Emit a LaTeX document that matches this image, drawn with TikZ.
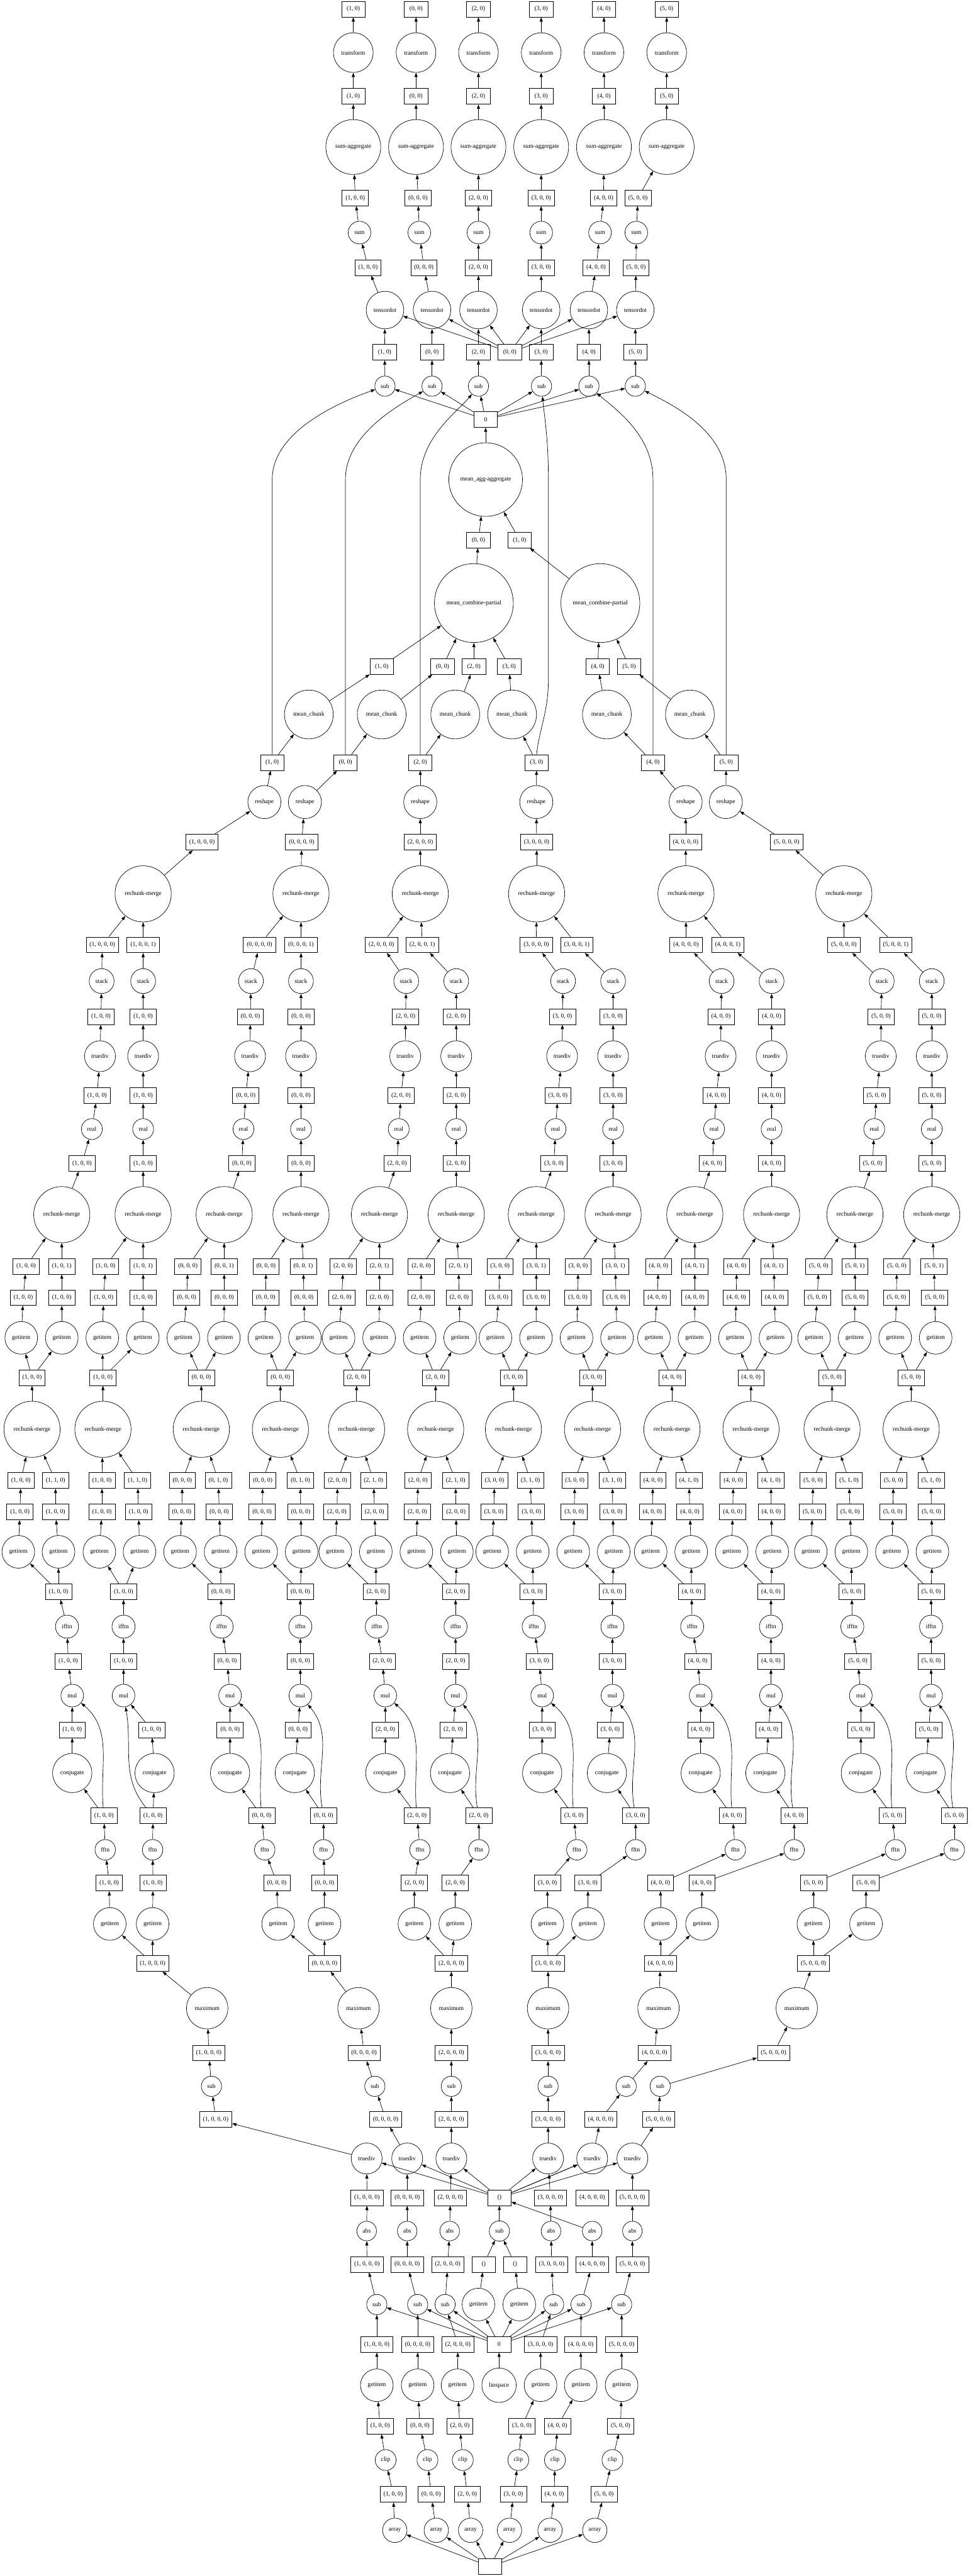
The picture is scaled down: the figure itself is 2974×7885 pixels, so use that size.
\documentclass[tikz,border=0pt]{standalone}
\usepackage{fontspec}
\setmainfont{Liberation Serif}
\usetikzlibrary{arrows.meta}
\tikzset{
 bx/.style={draw,rectangle,minimum width=54pt,minimum height=36pt,inner xsep=8pt,inner ysep=0pt},
 cn/.style={draw,circle,inner sep=0pt},
 ksub/.style={cn,minimum size=46.5pt}, kabs/.style={cn,minimum size=45pt},
 kgi/.style={cn,minimum size=75pt}, ktd/.style={cn,minimum size=71pt},
 kmax/.style={cn,minimum size=95pt}, kclip/.style={cn,minimum size=48pt},
 karr/.style={cn,minimum size=56pt}, klin/.style={cn,minimum size=79pt},
 kfft/.style={cn,minimum size=47pt}, kconj/.style={cn,minimum size=90pt},
 kmul/.style={cn,minimum size=52pt}, kifft/.style={cn,minimum size=53pt},
 krm/.style={cn,minimum size=129pt}, kreal/.style={cn,minimum size=48pt},
 kstack/.style={cn,minimum size=57pt}, kresh/.style={cn,minimum size=76pt},
 kmc/.style={cn,minimum size=112pt}, kmcp/.style={cn,minimum size=181pt},
 kmagg/.style={cn,minimum size=169pt}, ktens/.style={cn,minimum size=86pt},
 ksum/.style={cn,minimum size=52pt}, ksagg/.style={cn,minimum size=126pt},
 ktr/.style={cn,minimum size=91pt},
 arr/.style={line width=1pt,-{Triangle[length=10pt,width=7pt]}},
 mulc/.style={out=95,in=-40}
}
\newcommand\SBX[1]{\csname sbx#1\endcsname}
\newcommand\SB[7]{%
 \foreach \v [count=\k from 2] in #7 {\pgfmathsetmacro\sbtmp{\v+#4}\expandafter\xdef\csname sbx\k\endcsname{\sbtmp}}%
 \expandafter\xdef\csname sbx1\endcsname{#5}%
 \expandafter\xdef\csname sbx31\endcsname{#6}%
 \node[bx] (#1-45) at (\SBX{1},5764) {(#2, 0, 0)};
 \node[kfft] (#1-44) at (\SBX{2},5662) {fftn};
 \node[bx] (#1-43) at (\SBX{3},5558) {(#2, 0, 0)};
 \node[kconj] (#1-42) at (\SBX{4},5427) {conjugate};
 \node[bx] (#1-41) at (\SBX{5},5295) {(#2, 0, 0)};
 \node[kmul] (#1-40) at (\SBX{6},5190) {mul};
 \node[bx] (#1-39) at (\SBX{7},5085) {(#2, 0, 0)};
 \node[kifft] (#1-38) at (\SBX{8},4979) {ifftn};
 \node[bx] (#1-37) at (\SBX{9},4872) {(#2, 0, 0)};
 \node[kgi] (#1-36l) at (\SBX{10},4750) {getitem};
 \node[kgi] (#1-36r) at (\SBX{11},4750) {getitem};
 \node[bx] (#1-35l) at (\SBX{12},4628) {(#2, 0, 0)};
 \node[bx] (#1-35r) at (\SBX{13},4628) {(#2, 0, 0)};
 \node[bx] (#1-34l) at (\SBX{14},4532) {(#2, 0, 0)};
 \node[bx] (#1-34r) at (\SBX{15},4532) {(#2, 1, 0)};
 \node[krm] (#1-33) at (\SBX{16},4375) {rechunk-merge};
 \node[bx] (#1-32) at (\SBX{17},4217) {(#2, 0, 0)};
 \node[kgi] (#1-31l) at (\SBX{18},4095) {getitem};
 \node[kgi] (#1-31r) at (\SBX{19},4095) {getitem};
 \node[bx] (#1-30l) at (\SBX{20},3972) {(#2, 0, 0)};
 \node[bx] (#1-30r) at (\SBX{21},3972) {(#2, 0, 0)};
 \node[bx] (#1-29l) at (\SBX{22},3876) {(#2, 0, 0)};
 \node[bx] (#1-29r) at (\SBX{23},3876) {(#2, 0, 1)};
 \node[krm] (#1-28) at (\SBX{24},3718) {rechunk-merge};
 \node[bx] (#1-27) at (\SBX{25},3561) {(#2, 0, 0)};
 \node[kreal] (#1-26) at (\SBX{26},3456) {real};
 \node[bx] (#1-25) at (\SBX{27},3353) {(#2, 0, 0)};
 \node[ktd] (#1-24) at (\SBX{28},3233) {truediv};
 \node[bx] (#1-23) at (\SBX{29},3112) {(#2, 0, 0)};
 \node[kstack] (#1-22) at (\SBX{30},3003) {stack};
 \node[bx] (#1-21) at (\SBX{31},2892) {(#2, 0, 0, #3)};
 \foreach \s/\t in {45/44,44/43,43/42,42/41,41/40,40/39,39/38,38/37,37/36l,37/36r,36l/35l,36r/35r,35l/34l,35r/34r,34l/33,34r/33,33/32,32/31l,32/31r,31l/30l,31r/30r,30l/29l,30r/29r,29l/28,29r/28,28/27,27/26,26/25,25/24,24/23,23/22,22/21}
   {\draw[arr] (#1-\s) -- (#1-\t);}
 \draw[arr] (#1-43) to[mulc] (#1-40);
}
\def\TaA{322, 318, 221, 221, 221, 209, 205, 179, 56, 179, 61, 170, 64, 170, 98, 98, 65, 189, 71, 189, 80, 189, 189, 251, 281, 297, 306, 309, 311}
\def\TaB{467, 468, 473, 464, 378, 378, 378, 378, 304, 427, 312, 424, 312, 421, 315, 315, 313, 437, 317, 438, 323, 438, 438, 438, 438, 438, 438, 438, 438}
\def\TbA{810, 801, 704, 704, 704, 695, 678, 676, 551, 675, 556, 671, 558, 668, 616, 616, 561, 685, 571, 686, 575, 686, 686, 740, 745, 752, 765, 766, 768}
\def\TbB{990, 990, 902, 912, 919, 919, 919, 919, 799, 923, 802, 920, 804, 919, 858, 858, 809, 933, 813, 930, 814, 928, 921, 921, 921, 921, 921, 921, 921}
\begin{document}
\begin{tikzpicture}[x=0.75pt,y=-0.75pt,line width=1pt,every node/.append style={font=\fontsize{14pt}{16.8pt}\selectfont}]
\useasboundingbox[fill=white] (0,0) rectangle (2974,7885);
% ---------- bottom section ----------
\node[bx] (root) at (1499,7856) {};
\foreach \p/\x in {a/1208,b/1335,c/1440,d/1559,e/1683,f/1820} {\node[karr] (\p62) at (\x,7745) {array};}
\foreach \p/\i/\x in {a/1/1203,b/0/1319,c/2/1430,d/3/1571,e/4/1696,f/5/1848} {\node[bx] (\p61) at (\x,7635) {(\i, 0, 0)};}
\foreach \p/\x in {a/1180,b/1308,c/1416,d/1586,e/1698,f/1874} {\node[kclip] (\p60) at (\x,7530) {clip};}
\foreach \p/\i/\x in {a/1/1163,b/0/1285,c/2/1407,d/3/1597,e/4/1706,f/5/1899} {\node[bx] (\p59) at (\x,7426) {(\i, 0, 0)};}
\foreach \p/\x in {a/1153,b/1278,c/1400,d/1654,e/1777,f/1902} {\node[kgi] (\p58) at (\x,7301) {getitem};}
\node[klin] (lin58) at (1527,7301) {linspace};
\foreach \p/\i/\x in {a/1/1153,b/0/1278,c/2/1401,d/3/1654,e/4/1777,f/5/1902} {\node[bx] (\p57) at (\x,7176) {(\i, 0, 0, 0)};}
\node[bx] (z57) at (1527,7176) {0};
\foreach \p/\x in {a/1153,b/1278,c/1362,d/1694,e/1778,f/1902} {\node[ksub] (\p56) at (\x,7054) {sub};}
\node[kgi] (g56a) at (1464,7054) {getitem};
\node[kgi] (g56b) at (1589,7054) {getitem};
\foreach \p/\i/\x in {a/1/1123,b/0/1246,c/2/1370,d/3/1688,e/4/1812,f/5/1935} {\node[bx] (\p55) at (\x,6931) {(\i, 0, 0, 0)};}
\node[bx] (e55a) at (1480,6931) {()};
\node[bx] (e55b) at (1576,6931) {()};
\foreach \p/\x in {a/1122,b/1246,c/1376,d/1686,e/1812,f/1935} {\node[kabs] (\p54) at (\x,6829) {abs};}
\node[ksub] (s54) at (1528,6829) {sub};
\foreach \p/\i/\x in {a/1/1123,b/0/1246,c/2/1378,d/3/1684,e/4/1812,f/5/1935} {\node[bx] (\p53) at (\x,6727) {(\i, 0, 0, 0)};}
\node[bx] (e53) at (1528,6727) {()};
\foreach \p/\x in {a/1122,b/1246,c/1381,d/1677,e/1812,f/1935} {\node[ktd] (\p52) at (\x,6607) {truediv};}
\foreach \p/\i/\x in {a/1/660,b/0/1180,c/2/1381,d/3/1677,e/4/1838,f/5/2015} {\node[bx] (\p51) at (\x,6487) {(\i, 0, 0, 0)};}
\foreach \p/\x in {a/647,b/1147,c/1381,d/1677,e/1916,f/2020} {\node[ksub] (\p50) at (\x,6386) {sub};}
\foreach \p/\i/\x in {a/1/639,b/0/1114,c/2/1381,d/3/1677,e/4/2003,f/5/2367} {\node[bx] (\p49) at (\x,6284) {(\i, 0, 0, 0)};}
\foreach \p/\x in {a/634,b/1097,c/1381,d/1677,e/2015,f/2438} {\node[kmax] (\p48) at (\x,6147) {maximum};}
\foreach \p/\i/\x in {a/1/467,b/0/993,c/2/1381,d/3/1677,e/4/2021,f/5/2489} {\node[bx] (\p47) at (\x,6010) {(\i, 0, 0, 0)};}
\foreach \p/\x/\y in {a/336/467,b/851/993,c/1268/1393,d/1675/1799,e/2021/2148,f/2489/2650}
 {\node[kgi] (\p46l) at (\x,5889) {getitem}; \node[kgi] (\p46r) at (\y,5889) {getitem};}
% ---------- middle section ----------
\tikzset{mulc/.style={out=95,in=-40}}
\SB{a0}{1}{0}{0}{334}{313}{\TaA}
\tikzset{mulc/.style={out=130,in=-80}}
\SB{a1}{1}{1}{0}{468}{438}{\TaB}
\tikzset{mulc/.style={out=95,in=-40}}
\SB{b0}{0}{0}{0}{847}{794}{\TbA}
\tikzset{mulc/.style={out=100,in=-50}}
\SB{b1}{0}{1}{0}{993}{921}{\TbB}
\tikzset{mulc/.style={out=95,in=-40}}
\SB{c0}{2}{0}{475}{1268}{1167}{\TbA}
\SB{d0}{3}{0}{955}{1675}{1641}{\TbA}
\SB{e0}{4}{0}{1440}{2021}{2099}{\TbA}
\SB{f0}{5}{0}{1930}{2489}{2582}{\TbA}
\tikzset{mulc/.style={out=100,in=-50}}
\SB{c1}{2}{1}{475}{1393}{1292}{\TbB}
\SB{d1}{3}{1}{955}{1799}{1765}{\TbB}
\SB{e1}{4}{1}{1440}{2148}{2227}{\TbB}
\SB{f1}{5}{1}{1930}{2650}{2741}{\TbB}
% ---------- top section ----------
\foreach \p/\x in {a/438,b/921,c/1286,d/1642,e/2099,f/2582} {\node[krm] (\p20) at (\x,2736) {rechunk-merge};}
\foreach \p/\i/\x in {a/1/618,b/0/923,c/2/1286,d/3/1642,e/4/2098,f/5/2407} {\node[bx] (\p19) at (\x,2578) {(\i, 0, 0, 0)};}
\foreach \p/\x in {a/809,b/933,c/1286,d/1641,e/2098,f/2221} {\node[kresh] (\p18) at (\x,2455) {reshape};}
\foreach \p/\i/\x in {a/1/833,b/0/1057,c/2/1286,d/3/1642,e/4/1998,f/5/2222} {\node[bx] (\p17) at (\x,2334) {(\i, 0)};}
\foreach \p/\x in {a/945,b/1168,c/1393,d/1567,e/1857,f/2111} {\node[kmc] (\p16) at (\x,2187) {mean\_chunk};}
\foreach \p/\i/\x in {a/1/1168,b/0/1354,c/2/1450,d/3/1558,e/4/1829,f/5/1925} {\node[bx] (\p15) at (\x,2040) {(\i, 0)};}
\node[kmcp] (m14a) at (1450,1846) {mean\_combine-partial};
\node[kmcp] (m14b) at (1837,1846) {mean\_combine-partial};
\node[bx] (q13a) at (1464,1653) {(0, 0)};
\node[bx] (q13b) at (1590,1653) {(1, 0)};
\node[kmagg] (magg) at (1486,1468) {mean\_agg-aggregate};
\node[bx] (zz11) at (1486,1284) {0};
\foreach \p/\x in {a/1178,b/1322,c/1464,d/1657,e/1802,f/1944} {\node[ksub] (\p10) at (\x,1182) {sub};}
\foreach \p/\i/\x in {a/1/1177,b/0/1322,c/2/1464,d/3/1656,e/4/1802,f/5/1944} {\node[bx] (\p9) at (\x,1078) {(\i, 0)};}
\node[bx] (s9) at (1560,1078) {(0, 0)};
\foreach \p/\x in {a/1178,b/1322,c/1464,d/1656,e/1802,f/1944} {\node[ktens] (\p8) at (\x,949) {tensordot};}
\foreach \p/\i/\x in {a/1/1126,b/0/1297,c/2/1464,d/3/1656,e/4/1824,f/5/1946} {\node[bx] (\p7) at (\x,819) {(\i, 0, 0)};}
\foreach \p/\x in {a/1100,b/1283,c/1464,d/1656,e/1836,f/1947} {\node[ksum] (\p6) at (\x,712) {sum};}
\foreach \p/\i/\x in {a/1/1087,b/0/1279,c/2/1464,d/3/1656,e/4/1847,f/5/1952} {\node[bx] (\p5) at (\x,606) {(\i, 0, 0)};}
\foreach \p/\i/\x in {a/1/1081,b/0/1273,c/2/1464,d/3/1656,e/4/1848,f/5/2040}
 {\node[ksagg] (\p4) at (\x,450) {sum-aggregate};
  \node[bx] (\p3) at (\x,295) {(\i, 0)};
  \node[ktr] (\p2) at (\x,161) {transform};
  \node[bx] (\p1) at (\x,28) {(\i, 0)};}
% ---------- edges ----------
\foreach \p in {a,b,c,d,e,f} {
 \draw[arr] (root) -- (\p62);
 \foreach \s/\t in {62/61,61/60,60/59,59/58,58/57,57/56,56/55,55/54,54/53,53/52,52/51,51/50,50/49,49/48,48/47,47/46l,47/46r,
   20/19,19/18,18/17,17/16,16/15,10/9,9/8,8/7,7/6,6/5,5/4,4/3,3/2,2/1}
   {\draw[arr] (\p\s) -- (\p\t);}
 \draw[arr] (\p46l) -- (\p0-45);
 \draw[arr] (\p46r) -- (\p1-45);
 \draw[arr] (\p0-21) -- (\p20);
 \draw[arr] (\p1-21) -- (\p20);
 \draw[arr] (z57) -- (\p56);
 \draw[arr] (e53) -- (\p52);
 \draw[arr] (zz11) -- (\p10);
 \draw[arr] (s9) -- (\p8);
}
\draw[arr] (lin58) -- (z57);
\draw[arr] (z57) -- (g56a);
\draw[arr] (z57) -- (g56b);
\draw[arr] (g56a) -- (e55a);
\draw[arr] (g56b) -- (e55b);
\draw[arr] (e55a) -- (s54);
\draw[arr] (e55b) -- (s54);
\draw[arr] (s54) -- (e53);
\foreach \p in {a,b,c,d} {\draw[arr] (\p15) -- (m14a);}
\foreach \p in {e,f} {\draw[arr] (\p15) -- (m14b);}
\draw[arr] (m14a) -- (q13a);
\draw[arr] (m14b) -- (q13b);
\draw[arr] (q13a) -- (magg);
\draw[arr] (q13b) -- (magg);
\draw[arr] (magg) -- (zz11);
% long edges reshape-output -> sub
\draw[arr] (a17.north) -- (833,1467) .. controls (833,1320) and (1040,1230) .. (a10);
\draw[arr] (b17.north) -- (1057,1467) .. controls (1057,1330) and (1220,1240) .. (b10);
\draw[arr] (c17.north) -- (1286,1467) .. controls (1286,1340) and (1400,1260) .. (c10);
\draw[arr] (d17.north) .. controls (1650,2230) and (1678,2180) .. (1678,2080) -- (1678,1467) .. controls (1678,1340) and (1665,1270) .. (d10);
\draw[arr] (e17.north) -- (1998,1467) .. controls (1998,1330) and (1880,1250) .. (e10);
\draw[arr] (f17.north) -- (2222,1467) .. controls (2222,1320) and (2060,1240) .. (f10);
\end{tikzpicture}
\end{document}
